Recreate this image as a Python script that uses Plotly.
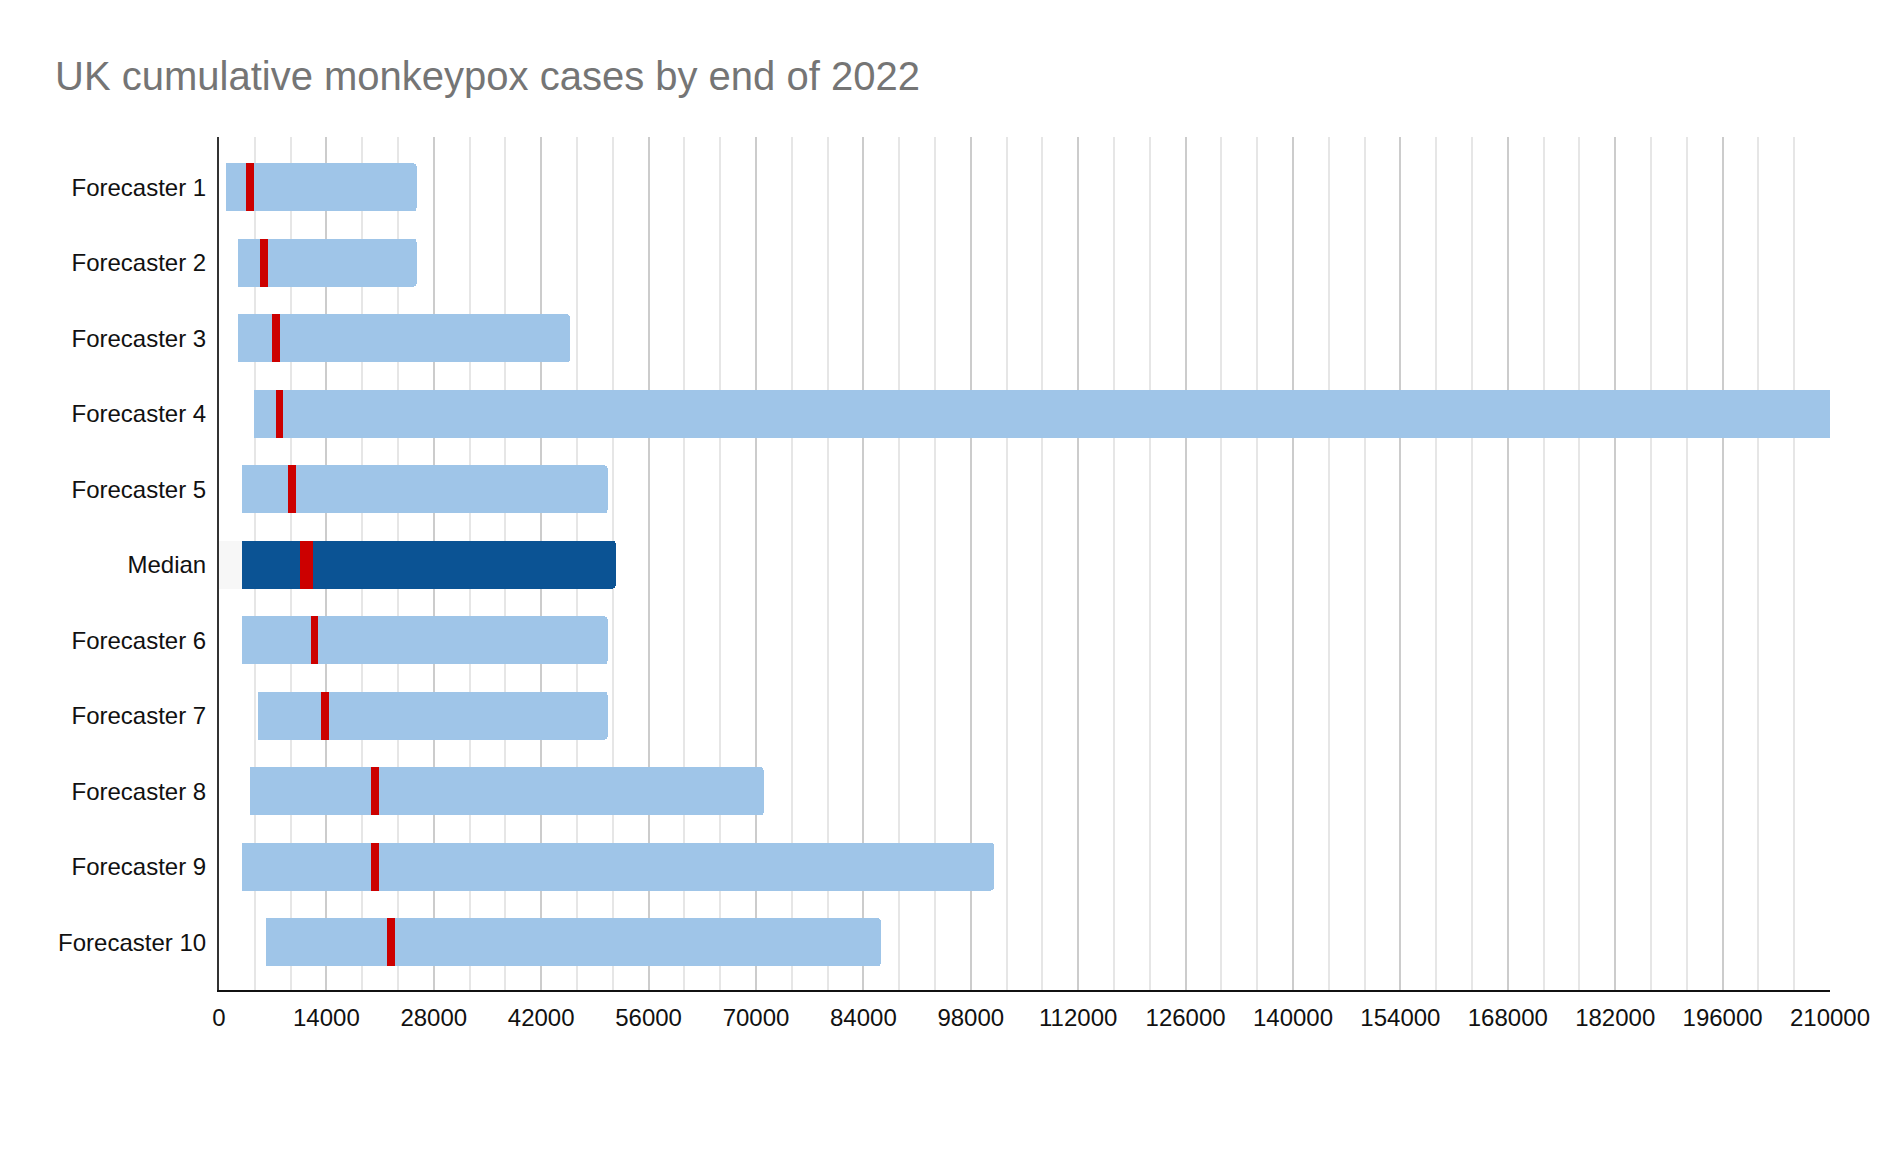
import plotly.graph_objects as go

# rows, top to bottom
labels = ["Forecaster 1", "Forecaster 2", "Forecaster 3", "Forecaster 4",
          "Forecaster 5", "Median", "Forecaster 6", "Forecaster 7",
          "Forecaster 8", "Forecaster 9", "Forecaster 10"]

# forecast range (low / high) and the red median band (start / end)
low = [900, 2450, 2450, 4550, 3000, 3000, 3000, 5050, 4000, 3000, 6100]
mid_start = [3500, 5300, 6850, 7400, 8950, 10500, 12050, 13350, 19850, 19850, 21900]
mid_end = [4500, 6350, 7900, 8400, 10000, 12300, 12850, 14400, 20850, 20850, 22950]
high = [25750, 25750, 45750, 215000, 50650, 51700, 50650, 50650, 71000, 101000, 86250]

LIGHT = "#9fc5e8"
DARK = "#0b5394"
RED = "#cc0000"

is_median = [lab == "Median" for lab in labels]
base_colors = ["#f7f7f7" if m else "rgba(0,0,0,0)" for m in is_median]
blue_colors = [DARK if m else LIGHT for m in is_median]

seg_base = low
seg_lower = [m - l for m, l in zip(mid_start, low)]
seg_red = [e - s for e, s in zip(mid_end, mid_start)]
seg_upper = [h - e for h, e in zip(high, mid_end)]

fig = go.Figure()
for vals, colors in [(seg_base, base_colors), (seg_lower, blue_colors),
                     (seg_red, [RED] * len(labels)), (seg_upper, blue_colors)]:
    fig.add_trace(go.Bar(
        y=labels, x=vals, orientation="h",
        marker=dict(color=colors, line=dict(width=0)),
        hoverinfo="skip", showlegend=False,
    ))

# page body adds an 8px margin, so the figure is a bit smaller than the window
W, H = 1874, 1154

fig.update_layout(
    barmode="stack",
    bargap=0.368,
    barcornerradius=3,
    width=W, height=H,
    margin=dict(l=211, r=42, t=129, b=172),
    paper_bgcolor="white",
    plot_bgcolor="white",
    font=dict(family="Liberation Sans, Arial, sans-serif", size=24, color="#111111"),
    title=dict(
        text="UK cumulative monkeypox cases by end of 2022",
        font=dict(size=40, color="#757575"),
        x=47 / W, xref="container", xanchor="left",
        y=1 - 68 / H, yref="container", yanchor="middle",
    ),
    showlegend=False,
)

fig.update_xaxes(
    range=[0, 210000],
    tick0=0, dtick=14000,
    tickformat="d",
    showgrid=True, gridcolor="#cccccc", gridwidth=1.5,
    minor=dict(dtick=14000 / 3, showgrid=True, gridcolor="#e6e6e6", gridwidth=1.5),
    zeroline=False,
    showline=True, linecolor="#111111", linewidth=2,
    ticks="", ticklabelstandoff=5,
)

fig.update_yaxes(
    categoryorder="array", categoryarray=labels,
    range=[10.633, -0.666],
    showgrid=False, zeroline=False,
    showline=True, linecolor="#333333", linewidth=2,
    ticks="", ticklabelstandoff=6,
)

fig.write_html("out.html")
